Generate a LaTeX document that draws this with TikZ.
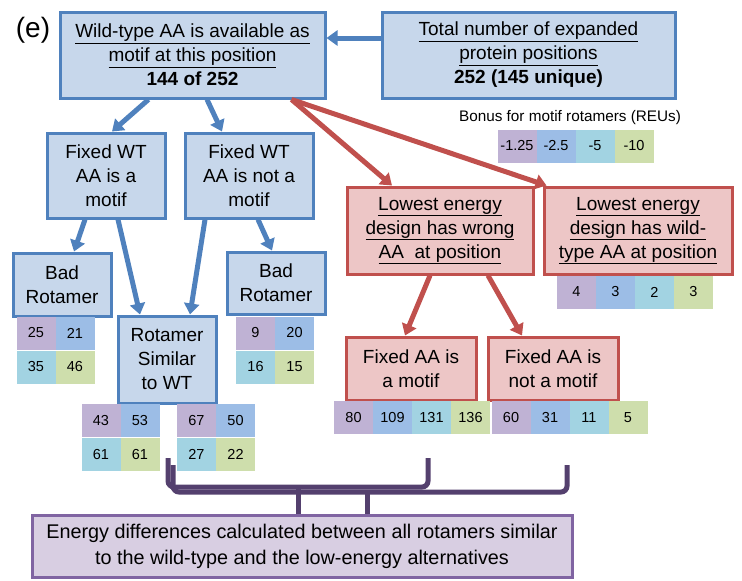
\documentclass[tikz,border=0pt]{standalone}
\usepackage{fontspec}
\setmainfont{Liberation Sans}
\usepackage{tikz}
\usetikzlibrary{arrows.meta, positioning}
\definecolor{boxBlue}{RGB}{79,129,189}
\definecolor{fillBlue}{RGB}{199,215,235}
\definecolor{boxRed}{RGB}{192,80,77}
\definecolor{fillRed}{RGB}{237,198,198}
\definecolor{boxPurple}{RGB}{128,100,162}
\definecolor{fillPurple}{RGB}{216,206,226}
\definecolor{braceDark}{RGB}{84,64,110}
\definecolor{cell1}{RGB}{191,178,212}
\definecolor{cell2}{RGB}{156,189,230}
\definecolor{cell3}{RGB}{162,211,226}
\definecolor{cell4}{RGB}{206,222,172}
\newcommand{\boxfont}{\fontsize{19}{24}\selectfont}
\newcommand{\cellfont}{\fontsize{14.5}{17}\selectfont}
% one row of four cells: name, x, y, values
\newcommand{\cellrow}[4]{%
  \foreach \v [count=\i] in {#4} {
    \pgfmathsetmacro{\cx}{#2+39*(\i-1)}
    \node[cell, fill=cell\i] (#1\i) at (\cx,#3) {\v};
  }}
% two by two cells: name, x, y, values
\newcommand{\cellgrid}[4]{%
  \foreach \v [count=\i] in {#4} {
    \pgfmathsetmacro{\cx}{#2+39*mod(\i-1,2)}
    \pgfmathsetmacro{\cy}{#3+34*int((\i-1)/2)}
    \node[cell, fill=cell\i] (#1\i) at (\cx,\cy) {\v};
  }}

\begin{document}
\begin{tikzpicture}[x=1pt, y=-1pt,
  bbox/.style={draw=boxBlue, fill=fillBlue, line width=3pt, align=center,
               font=\boxfont, inner sep=2pt},
  rbox/.style={draw=boxRed, fill=fillRed, line width=3pt, align=center,
               font=\boxfont, inner sep=2pt},
  pbox/.style={draw=boxPurple, fill=fillPurple, line width=3pt, align=center,
               font=\fontsize{19.8}{26}\selectfont, inner sep=2pt},
  cell/.style={minimum width=39pt, minimum height=33pt, inner sep=0pt, font=\cellfont},
  barrow/.style={-{Triangle[width=15pt,length=11pt]}, line width=5pt, boxBlue},
  rarrow/.style={-{Triangle[width=15pt,length=11pt]}, line width=5pt, boxRed},
  brace/.style={draw=braceDark, line width=5pt, rounded corners=6pt},
]
  \useasboundingbox (0,0) rectangle (742,581);

  \node[font=\fontsize{28}{30}\selectfont] (lbl) at (33,30) {(e)};

  % top row
  \node[bbox, minimum width=265pt, minimum height=86pt] (wt) at (192.5,55)
    {\underline{Wild-type AA is available as}\\\underline{motif at this position}\\\textbf{144 of 252}};
  \node[bbox, minimum width=293pt, minimum height=86pt] (total) at (528.5,55)
    {\underline{Total number of expanded}\\\underline{protein positions}\\\textbf{252 (145 unique)}};

  % legend
  \node[font=\fontsize{15.3}{17}\selectfont] (bonus) at (570,118) {Bonus for motif rotamers (REUs)};
  \cellrow{leg}{517}{146}{-1.25,-2.5,-5,-10}

  % blue branch
  \node[bbox, minimum width=118pt, minimum height=85pt] (fixm) at (106,175.5)
    {Fixed WT\\AA is a\\motif};
  \node[bbox, minimum width=128pt, minimum height=85pt] (fixn) at (249,175.5)
    {Fixed WT\\AA is not a\\motif};
  \node[bbox, minimum width=98pt, minimum height=63pt] (badl) at (62,284.5)
    {Bad\\Rotamer};
  \node[bbox, minimum width=98pt, minimum height=87pt] (sim) at (167,359.5)
    {Rotamer\\Similar\\to WT};
  \node[bbox, minimum width=98pt, minimum height=62pt] (badr) at (276,283)
    {Bad\\Rotamer};

  \cellgrid{bl}{36}{333}{25,21,35,46}
  \cellgrid{br}{255.5}{333}{9,20,16,15}
  \cellgrid{sl}{101}{420.5}{43,53,61,61}
  \cellgrid{sr}{196.5}{420.5}{67,50,27,22}

  % red branch
  \node[rbox, minimum width=186pt, minimum height=87pt] (low1) at (440,230.5)
    {\underline{Lowest energy}\\\underline{design has wrong}\\\underline{AA\ \ at position}};
  \node[rbox, minimum width=188pt, minimum height=87pt] (low2) at (638,230.5)
    {\underline{Lowest energy}\\\underline{design has wild-}\\\underline{type AA at position}};
  \node[rbox, minimum width=130pt, minimum height=63pt] (fam) at (411,368.5)
    {Fixed AA is\\a motif};
  \node[rbox, minimum width=130pt, minimum height=63pt] (fan) at (553,368.5)
    {Fixed AA is\\not a motif};

  \cellrow{lw}{576.5}{292}{4,3,2,3}
  \cellrow{fm}{353.5}{417.5}{80,109,131,136}
  \cellrow{fn}{511}{417.5}{60,31,11,5}

  % arrows
  \draw[barrow] ([yshift=17pt]total.west) -- ([yshift=17pt]wt.east);
  \draw[barrow] ([xshift=-44pt]wt.south) -- ([xshift=6pt]fixm.north);
  \draw[barrow] ([xshift=14.5pt]wt.south) -- ([xshift=-27pt]fixn.north);
  \draw[barrow] ([xshift=-21pt]fixm.south) -- ([xshift=12pt]badl.north);
  \draw[barrow] ([xshift=12pt]fixm.south) -- ([xshift=-27pt]sim.north);
  \draw[barrow] ([xshift=-44pt]fixn.south) -- ([xshift=23pt]sim.north);
  \draw[barrow] ([xshift=9pt]fixn.south) -- ([xshift=-4pt]badr.north);
  \draw[rarrow] ([xshift=-35pt]wt.south east) -- ([xshift=-48pt]low1.north);
  \draw[rarrow] ([xshift=-35pt]wt.south east) -- ([xshift=4pt]low2.north west);
  \draw[rarrow] ([xshift=-10pt]low1.south) -- ([xshift=-6pt]fam.north);
  \draw[rarrow] ([xshift=48pt]low1.south) -- ([xshift=-31pt]fan.north);

  % braces
  \coordinate (bra1l) at (168,458);
  \coordinate (bra1r) at (428,458);
  \coordinate (bra1t) at (298,487);
  \coordinate (bra2l) at (173,465);
  \coordinate (bra2r) at (567,465);
  \coordinate (bra2t) at (367,492);
  \node[pbox, minimum width=540pt, minimum height=62pt] (en) at (302,546)
    {Energy differences calculated between all rotamers similar\\to the wild-type and the low-energy alternatives};
  \draw[brace] (bra1l) |- (bra1r |- bra1t) -- (bra1r);
  \draw[brace] (bra2l) |- (bra2r |- bra2t) -- (bra2r);
  \draw[brace] (bra1t) -- ([xshift=-4pt]en.north);
  \draw[brace] (bra2t) -- ([xshift=65pt]en.north);
\end{tikzpicture}
\end{document}
